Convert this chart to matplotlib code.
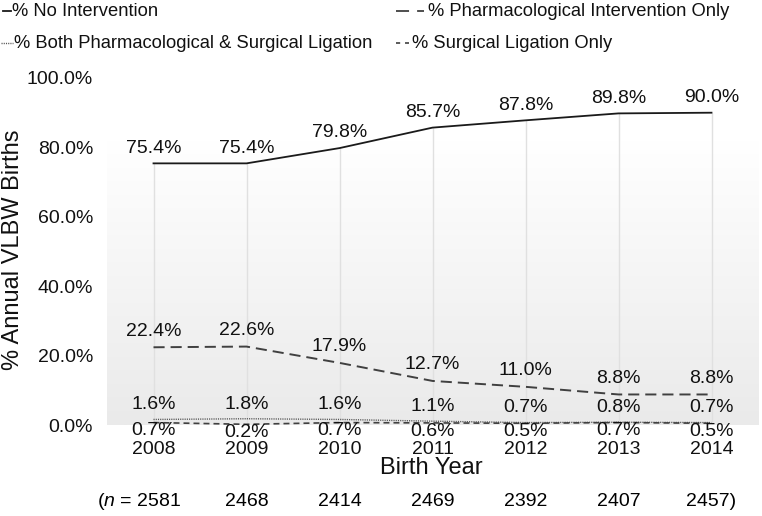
import numpy as np
import matplotlib
matplotlib.use("Agg")
import matplotlib.pyplot as plt
from matplotlib.colors import LinearSegmentedColormap
from matplotlib.lines import Line2D

plt.rcParams['font.family'] = ['Liberation Sans', 'DejaVu Sans']
plt.rcParams['mathtext.fontset'] = 'custom'
plt.rcParams['mathtext.rm'] = 'Liberation Sans'
plt.rcParams['mathtext.it'] = 'Liberation Sans:italic'
plt.rcParams['lines.scale_dashes'] = False

# data
years = ['2008', '2009', '2010', '2011', '2012', '2013', '2014']
n_births = [2581, 2468, 2414, 2469, 2392, 2407, 2457]
no_intervention = [75.4, 75.4, 79.8, 85.7, 87.8, 89.8, 90.0]
pharm_only = [22.4, 22.6, 17.9, 12.7, 11.0, 8.8, 8.8]
both = [1.6, 1.8, 1.6, 1.1, 0.7, 0.8, 0.7]
surgical_only = [0.7, 0.2, 0.7, 0.6, 0.5, 0.7, 0.5]

x = np.arange(len(years))
fs = 14
W, H = 762, 516

fig = plt.figure(figsize=(7.62, 5.16), dpi=100)
ax = fig.add_axes([107 / W, 1 - 425 / H, 651 / W, 347 / H])
ax.set_xlim(-0.5, 6.5)
ax.set_ylim(0, 100)

# gradient plot area background
cmap = LinearSegmentedColormap.from_list('bg', ['#eaeaea', '#ffffff'])
grad = np.linspace(0, 1, 256).reshape(-1, 1)
ax.imshow(grad, cmap=cmap, origin='lower', aspect='auto',
          extent=(-0.5, 6.5, 0, 82), zorder=0)

# drop lines from the top series
ax.vlines(x, 0, no_intervention, color='#e0e0e0', lw=1, zorder=1)

style_no = dict(color='#1a1a1a', lw=1.3)
style_ph = dict(color='#404040', lw=1.4, dashes=(8, 4.3))
style_both = dict(color='#555555', lw=1.0, dashes=(0.8, 0.8))
style_su = dict(color='#404040', lw=1.2, dashes=(4.3, 2.9))

ax.plot(x, no_intervention, zorder=3, **style_no)
ax.plot(x, pharm_only, zorder=3, **style_ph)
ax.plot(x, both, zorder=3, **style_both)
ax.plot(x, surgical_only, zorder=3, **style_su)

# value labels
for series, dy in [(no_intervention, 11), (pharm_only, 11.5), (both, 10.5), (surgical_only, -6)]:
    for xi, v in zip(x, series):
        ax.annotate(f'{v:.1f}%', (xi, v), xytext=(0, dy), textcoords='offset points',
                    ha='center', va='center', fontsize=fs, color='#111111', zorder=4)

for s in ax.spines.values():
    s.set_visible(False)
ax.set_yticks([0, 20, 40, 60, 80, 100])
ax.set_yticklabels([f'{t:.1f}%' for t in [0, 20, 40, 60, 80, 100]])
ax.set_xticks(x)
ax.set_xticklabels(years)
ax.tick_params(length=0, labelsize=fs, labelcolor='#111111')
ax.tick_params(axis='y', pad=10)
ax.tick_params(axis='x', pad=11.5)

fig.text(431 / W, 1 - 468 / H, 'Birth Year', ha='center', va='center', fontsize=17, color='#111111')
fig.text(13 / W, 1 - 250 / H, '% Annual VLBW Births', ha='center', va='center',
         rotation=90, fontsize=17, color='#111111')

# sample sizes
n_y = 1 - 501 / H
for i, n in enumerate(n_births):
    if i == 0:
        ax.annotate(f'($n$ = {n}', (x[i], n_y), xycoords=('data', 'figure fraction'),
                    xytext=(19.5, 0), textcoords='offset points', ha='right', va='center', fontsize=fs)
    elif i == len(n_births) - 1:
        ax.annotate(f'{n})', (x[i], n_y), xycoords=('data', 'figure fraction'),
                    ha='center', va='center', fontsize=fs)
    else:
        ax.annotate(f'{n}', (x[i], n_y), xycoords=('data', 'figure fraction'),
                    ha='center', va='center', fontsize=fs)

# legend, drawn by hand: short handles of different lengths
legend_items = [
    ('% No Intervention', dict(color='#1a1a1a', lw=1.3), 3, 11, 12, 11),
    ('% Both Pharmacological & Surgical Ligation', dict(color='#555555', lw=1.0, dashes=(0.8, 0.8)), 1, 13, 14, 43),
    ('% Pharmacological Intervention Only', dict(color='#404040', lw=1.3, dashes=(9.4, 5.8, 5, 5)), 396, 424, 428, 11),
    ('% Surgical Ligation Only', dict(color='#404040', lw=1.2, dashes=(3, 3.5)), 396, 409, 412, 43),
]
for label, style, hx0, hx1, tx, ty in legend_items:
    fig.add_artist(Line2D([hx0 / W, hx1 / W], [1 - ty / H, 1 - ty / H],
                          transform=fig.transFigure, **style))
    fig.text(tx / W, 1 - ty / H, label, ha='left', va='center', fontsize=13.2, color='#111111')

fig.savefig('out.png', dpi=100)
